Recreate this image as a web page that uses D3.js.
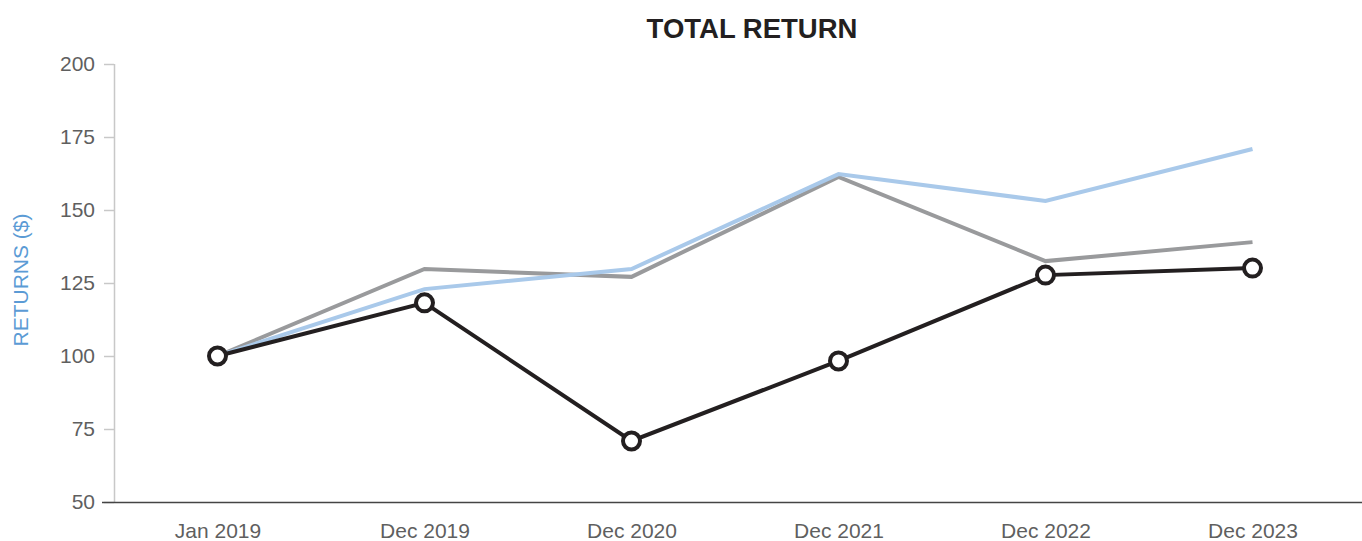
<!DOCTYPE html>
<html>
<head>
  <meta charset="utf-8" />
  <style>
    body { margin: 0; background: #fff; }
    text { font-family: "Liberation Sans", Arial, sans-serif; }
  </style>
</head>
<body>
  <svg id="container" width="1362" height="541"></svg>
  <script src="https://cdn.jsdelivr.net/npm/d3@7/dist/d3.min.js"></script>
<script>
var categories = ['Jan 2019', 'Dec 2019', 'Dec 2020', 'Dec 2021', 'Dec 2022', 'Dec 2023'];
var companyValues = [100, 118.2, 70.9, 98.3, 127.7, 130.1];
var peerValues = [100, 129.8, 127.1, 161.3, 132.5, 139.0];
var indexValues = [100, 122.9, 129.8, 162.3, 153.1, 170.9];
var yTicks = [50, 75, 100, 125, 150, 175, 200];

var svg = d3.select('#container');
var plotLeft = 114, plotRight = 1356, plotTop = 64, plotBottom = 502;

var x = d3.scalePoint().domain(categories).range([plotLeft, plotRight]).padding(0.5);
var y = d3.scaleLinear().domain([50, 200]).range([plotBottom, plotTop]);

// title
svg.append('text')
  .attr('x', 752).attr('y', 38)
  .attr('text-anchor', 'middle')
  .attr('font-size', 27.5).attr('font-weight', 'bold')
  .attr('fill', '#231f20')
  .text('TOTAL RETURN');

// y axis title
svg.append('text')
  .attr('transform', 'translate(28,' + ((plotTop + plotBottom) / 2 - 3) + ') rotate(-90)')
  .attr('text-anchor', 'middle')
  .attr('font-size', 21)
  .attr('fill', '#5b9bd5')
  .text('RETURNS ($)');

// y axis
var yAxis = svg.append('g')
  .attr('transform', 'translate(' + plotLeft + ',0)')
  .call(d3.axisLeft(y).tickValues(yTicks).tickSize(10).tickPadding(9));
yAxis.select('.domain').attr('stroke', '#c8c8c8').attr('stroke-width', 1.5)
  .attr('d', 'M0.5,' + plotTop + 'V' + plotBottom);
yAxis.selectAll('.tick line').attr('stroke', '#c8c8c8').attr('stroke-width', 1.5);
yAxis.selectAll('.tick text').attr('font-size', 21).attr('fill', '#5f5f5f')
  .attr('font-family', '"Liberation Sans", Arial, sans-serif');

// x axis
var xAxis = svg.append('g')
  .attr('transform', 'translate(0,' + plotBottom + ')')
  .call(d3.axisBottom(x).tickSize(0).tickPadding(21));
xAxis.select('.domain').attr('stroke', '#444').attr('stroke-width', 1.5)
  .attr('d', 'M' + (plotLeft - 12) + ',0.5H1362');
xAxis.selectAll('.tick text').attr('font-size', 21).attr('fill', '#5f5f5f')
  .attr('font-family', '"Liberation Sans", Arial, sans-serif');

var line = d3.line()
  .x(function (d, i) { return x(categories[i]); })
  .y(function (d) { return y(d); });

svg.append('path').datum(peerValues)
  .attr('d', line).attr('fill', 'none')
  .attr('stroke', '#999a9c').attr('stroke-width', 4);

svg.append('path').datum(indexValues)
  .attr('d', line).attr('fill', 'none')
  .attr('stroke', '#a9c9ea').attr('stroke-width', 4);

svg.append('path').datum(companyValues)
  .attr('d', line).attr('fill', 'none')
  .attr('stroke', '#231f20').attr('stroke-width', 4);

svg.selectAll('circle.pt').data(companyValues).enter()
  .append('circle').attr('class', 'pt')
  .attr('cx', function (d, i) { return x(categories[i]); })
  .attr('cy', function (d) { return y(d); })
  .attr('r', 8.5)
  .attr('fill', '#fff')
  .attr('stroke', '#231f20').attr('stroke-width', 4);
</script>
</body>
</html>
